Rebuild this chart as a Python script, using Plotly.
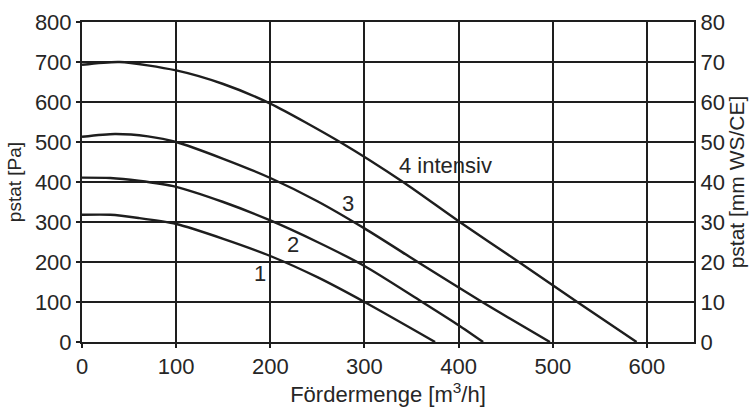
import plotly.graph_objects as go

# Data: Fördermenge [m3/h] vs pstat [Pa]
x1 = [0, 30, 60, 100, 150, 200, 250, 300, 375]
y1 = [318, 318, 310, 295, 258, 215, 162, 100, 0]
x2 = [0, 30, 60, 100, 150, 200, 250, 300, 360, 400, 426]
y2 = [411, 410, 403, 388, 350, 304, 250, 190, 102, 42, 0]
x3 = [0, 35, 70, 100, 150, 200, 250, 300, 360, 425, 497]
y3 = [513, 520, 514, 500, 458, 410, 352, 284, 195, 100, 0]
x4 = [0, 40, 100, 150, 200, 274, 341, 400, 464, 526, 589]
y4 = [693, 700, 679, 645, 596, 500, 400, 302, 200, 100, 0]

labels = ["1", "2", "3", "4 intensiv"]
label_x = [189, 224, 282, 386]
label_y = [172, 245, 346, 441]

x_ticks = [0, 100, 200, 300, 400, 500, 600]
y_ticks = [0, 100, 200, 300, 400, 500, 600, 700, 800]
y2_ticks = [0, 10, 20, 30, 40, 50, 60, 70, 80]

ink = "#1e1e1e"
txt = "#262626"
fam = "Liberation Sans, Arial, Helvetica, sans-serif"

fig = go.Figure()
for xs, ys in [(x1, y1), (x2, y2), (x3, y3), (x4, y4)]:
    fig.add_trace(go.Scatter(x=xs, y=ys, mode="lines",
                             line=dict(color=ink, width=2.4, shape="spline", smoothing=0.7),
                             showlegend=False, hoverinfo="skip"))
fig.add_trace(go.Scatter(x=[0], y=[0], yaxis="y2", mode="markers",
                         marker=dict(opacity=0), showlegend=False, hoverinfo="skip"))

for t, lx, ly in zip(labels, label_x, label_y):
    fig.add_annotation(x=lx, y=ly, text=t, showarrow=False,
                       font=dict(size=22, color=txt, family=fam))

fig.update_layout(
    width=752, height=407,
    margin=dict(l=82, r=58, t=22, b=65),
    paper_bgcolor="white", plot_bgcolor="white",
    font=dict(family=fam, size=22, color=txt),
    xaxis=dict(range=[0, 650], tickvals=x_ticks, showgrid=True, gridcolor=ink, gridwidth=2,
               showline=True, linecolor=ink, linewidth=2, mirror=True,
               ticks="outside", ticklen=4, tickcolor=ink, tickwidth=2, zeroline=False,
               automargin=False, tickfont=dict(size=22),
               title=dict(text="Fördermenge [m<sup>3</sup>/h]", font=dict(size=22), standoff=0)),
    yaxis=dict(range=[0, 800], tickvals=y_ticks, showgrid=True, gridcolor=ink, gridwidth=2,
               showline=True, linecolor=ink, linewidth=2,
               ticks="outside", ticklen=4, tickcolor=ink, tickwidth=2, zeroline=False,
               automargin=False, tickfont=dict(size=22),
               title=dict(text="pstat [Pa]", font=dict(size=19), standoff=8)),
    yaxis2=dict(range=[0, 80], tickvals=y2_ticks, overlaying="y", side="right",
                showgrid=False, showline=True, linecolor=ink, linewidth=2, zeroline=False,
                ticks="", automargin=False, tickfont=dict(size=22),
                title=dict(text="pstat [mm WS/CE]", font=dict(size=21), standoff=2)),
)
fig.write_html("out.html", config={"displayModeBar": False},
               post_script="document.body.style.margin='0';")
